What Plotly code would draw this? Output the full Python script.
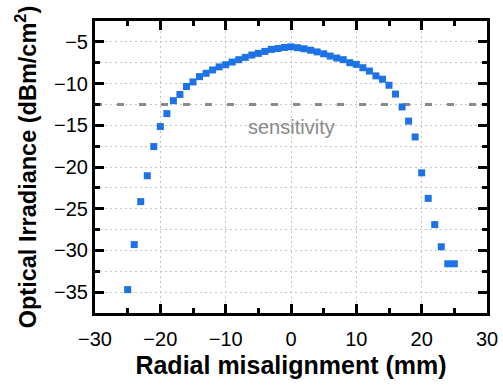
import plotly.graph_objects as go

misalignment_mm = list(range(-25, 26))
irradiance_dbm = [
    -34.7, -29.3, -24.15, -21.05, -17.55, -15.15, -13.6, -12.05, -11.3, -10.35,
    -9.8, -9.17, -8.77, -8.37, -8.0, -7.74, -7.42, -7.14, -6.86, -6.58,
    -6.38, -6.14, -5.9, -5.8, -5.67, -5.6, -5.7, -5.83, -6.0, -6.2,
    -6.43, -6.7, -6.94, -7.14, -7.5, -7.7, -8.1, -8.5, -9.08, -9.48,
    -10.2, -11.26, -12.8, -14.5, -16.4, -20.7, -23.76, -26.9, -29.56, -31.6,
    -31.6,
]
sensitivity_level = -12.5
sensitivity_label = "sensitivity"
x_range = [-30, 30]
y_range = [-37.5, -2.5]

FONT = "Arial, Liberation Sans, sans-serif"
GRID = "#c4c4c4"
GRID_DASH = "1.5px,3.5px"

fig = go.Figure()

fig.add_trace(go.Scatter(
    x=x_range, y=[sensitivity_level, sensitivity_level],
    mode="lines",
    line=dict(color="#8a8a8a", width=3, dash="7px,15px"),
    hoverinfo="skip", showlegend=False,
))

fig.add_trace(go.Scatter(
    x=misalignment_mm, y=irradiance_dbm,
    mode="markers",
    marker=dict(symbol="square", size=7, color="#1c72e6",
                line=dict(width=0)),
    showlegend=False,
))

fig.add_annotation(
    x=0, y=-15.2, text=sensitivity_label, showarrow=False,
    font=dict(family=FONT, size=20, color="#8a8a8a"),
    xanchor="center", yanchor="middle",
)

axis_common = dict(
    showline=True, linecolor="black", linewidth=3, mirror="allticks",
    ticks="inside", ticklen=9, tickwidth=2.5, tickcolor="black",
    showgrid=True, gridcolor=GRID, gridwidth=1, griddash=GRID_DASH,
    zeroline=False, automargin=False,
    tickfont=dict(family=FONT, size=20, color="black"),
)

fig.update_xaxes(
    **axis_common,
    range=x_range, dtick=10, tick0=0,
    ticklabelstandoff=6,
    minor=dict(dtick=5, ticks="inside", ticklen=5, tickwidth=2.5,
               tickcolor="black", showgrid=False),
    title=dict(text="<b>Radial misalignment (mm)</b>",
               font=dict(family=FONT, size=25, color="black"), standoff=8),
)

fig.update_yaxes(
    **axis_common,
    range=y_range, dtick=5, tick0=0,
    minor=dict(dtick=2.5, ticks="inside", ticklen=5, tickwidth=2.5,
               tickcolor="black", showgrid=True, gridcolor=GRID,
               gridwidth=1, griddash=GRID_DASH),
    title=dict(text="<b>Optical Irradiance (dBm/cm<sup>2</sup>)</b>",
               font=dict(family=FONT, size=23.5, color="black"), standoff=11),
)

fig.update_layout(
    width=503, height=385,
    margin=dict(l=95, r=16, t=21, b=72),
    plot_bgcolor="white", paper_bgcolor="white",
)

fig.write_html("out.html")
